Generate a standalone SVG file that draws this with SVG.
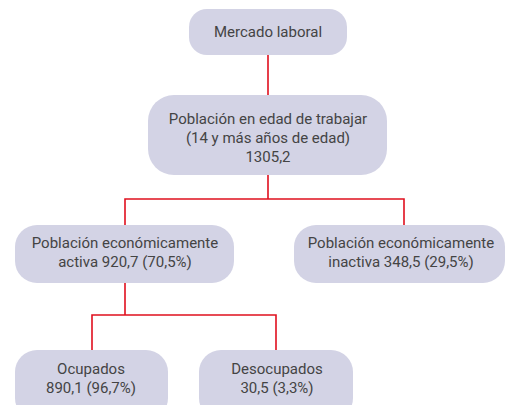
<svg xmlns="http://www.w3.org/2000/svg" width="507" height="405" viewBox="0 0 507 405">
<style>
.box{fill:#d3d3e5;}
.t{font-family:Roboto,"Liberation Sans",sans-serif;font-size:15px;fill:#444;text-anchor:middle;}
.c{stroke:#e0101e;stroke-width:1.6;fill:none;}
</style>
<rect width="507" height="405" fill="#fff"/>
<g id="connectors">
<path class="c" d="M268,55V95M268,175V199M125,225V199H404V225M125,283V315M92,350V315H276V350"/>
</g>
<g id="n1">
<rect class="box" x="189" y="9" width="158" height="46" rx="18"/>
<text class="t" x="268" y="37">Mercado laboral</text>
</g>
<g id="n2">
<rect class="box" x="148" y="95" width="239" height="80" rx="26"/>
<text class="t" x="268" y="124">Población en edad de trabajar</text>
<text class="t" x="268" y="143">(14 y más años de edad)</text>
<text class="t" x="268" y="162">1305,2</text>
</g>
<g id="n3">
<rect class="box" x="15" y="225" width="219" height="58" rx="22"/>
<text class="t" x="125" y="248">Población económicamente</text>
<text class="t" x="125" y="267">activa 920,7 (70,5%)</text>
</g>
<g id="n4">
<rect class="box" x="294" y="225" width="211" height="58" rx="22"/>
<text class="t" x="401" y="248">Población económicamente</text>
<text class="t" x="401" y="267">inactiva 348,5 (29,5%)</text>
</g>
<g id="n5">
<rect class="box" x="15" y="350" width="153" height="70" rx="22"/>
<text class="t" x="91" y="374">Ocupados</text>
<text class="t" x="91" y="393">890,1 (96,7%)</text>
</g>
<g id="n6">
<rect class="box" x="199" y="350" width="154" height="70" rx="22"/>
<text class="t" x="277" y="374">Desocupados</text>
<text class="t" x="277" y="393">30,5 (3,3%)</text>
</g>
</svg>
